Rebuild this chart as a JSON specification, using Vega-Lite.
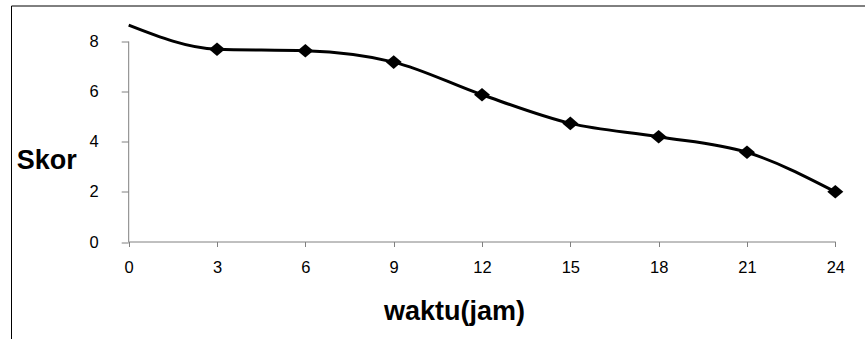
{
  "$schema": "https://vega.github.io/schema/vega-lite/v6.json",
  "width": 860,
  "height": 340,
  "autosize": {"type": "none"},
  "padding": {"left": 11, "top": 5.5, "right": -6, "bottom": -6.5},
  "background": "white",
  "config": {
    "view": {"stroke": "#000000", "strokeWidth": 1},
    "font": "Liberation Sans"
  },
  "data": {
    "values": [
      {"waktu": 0, "skor": 8.63},
      {"waktu": 3, "skor": 7.67},
      {"waktu": 6, "skor": 7.61},
      {"waktu": 9, "skor": 7.16},
      {"waktu": 12, "skor": 5.86},
      {"waktu": 15, "skor": 4.72},
      {"waktu": 18, "skor": 4.19},
      {"waktu": 21, "skor": 3.57},
      {"waktu": 24, "skor": 2.0}
    ]
  },
  "encoding": {
    "x": {
      "field": "waktu",
      "type": "quantitative",
      "scale": {"domain": [0, 24], "range": [117.7, 824.3], "nice": false, "zero": false},
      "axis": {
        "title": "waktu(jam)",
        "values": [0, 3, 6, 9, 12, 15, 18, 21, 24],
        "offset": -104,
        "grid": false,
        "domainColor": "#808080",
        "tickColor": "#808080",
        "tickSize": 5,
        "labelFont": "Liberation Sans",
        "labelFontSize": 16.5,
        "labelColor": "#000000",
        "labelPadding": 13,
        "labelDx": -3.5,
        "labelFlush": false,
        "labelOverlap": false,
        "titleFont": "Liberation Sans",
        "titleFontSize": 27,
        "titleFontWeight": "bold",
        "titleColor": "#000000",
        "titleX": 443,
        "titleY": 78,
        "titleAlign": "center",
        "titleBaseline": "alphabetic"
      }
    },
    "y": {
      "field": "skor",
      "type": "quantitative",
      "scale": {"domain": [0, 8], "range": [236.5, 35.5], "nice": false, "zero": false},
      "axis": {
        "title": "Skor",
        "values": [0, 2, 4, 6, 8],
        "offset": -117.2,
        "grid": false,
        "domainColor": "#808080",
        "tickColor": "#808080",
        "tickSize": 7,
        "labelFont": "Liberation Sans",
        "labelFontSize": 16.5,
        "labelColor": "#000000",
        "labelPadding": 23,
        "labelFlush": false,
        "labelOverlap": false,
        "titleFont": "Liberation Sans",
        "titleFontSize": 27,
        "titleFontWeight": "bold",
        "titleColor": "#000000",
        "titleAngle": 0,
        "titleX": -112,
        "titleY": 162.5,
        "titleAlign": "left",
        "titleBaseline": "alphabetic"
      }
    }
  },
  "layer": [
    {
      "mark": {"type": "line", "interpolate": "monotone", "color": "#000000", "strokeWidth": 3}
    },
    {
      "transform": [{"filter": "datum.waktu > 0"}],
      "mark": {
        "type": "point",
        "shape": "M-1,0L0,-0.85L1,0L0,0.85Z",
        "filled": true,
        "color": "#000000",
        "size": 256,
        "opacity": 1
      }
    }
  ]
}
